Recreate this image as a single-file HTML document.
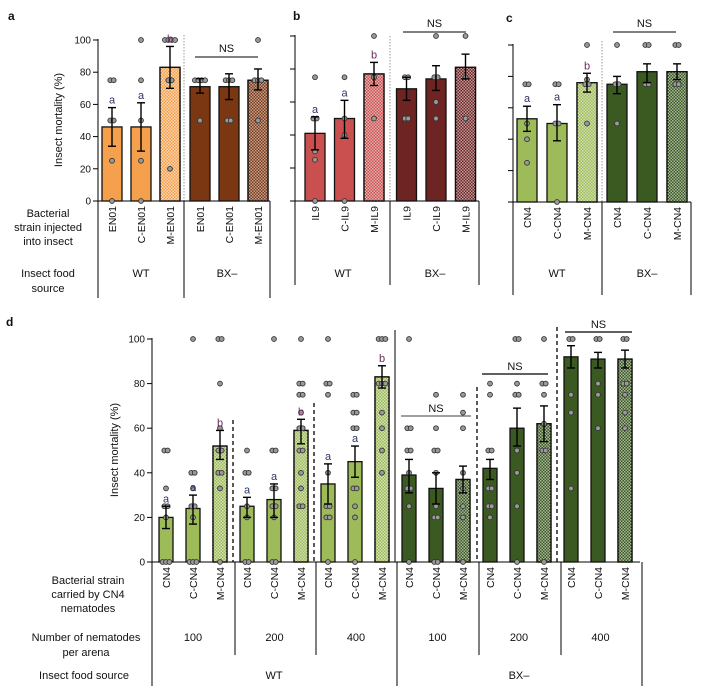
<!DOCTYPE html>
<html><head><meta charset="utf-8">
<style>
html,body{margin:0;padding:0;background:#fff;}
svg{display:block;font-family:"Liberation Sans",Arial,sans-serif;}
</style></head>
<body>
<svg id="fig" width="715" height="695" viewBox="0 0 715 695" xmlns="http://www.w3.org/2000/svg">
<defs>
<pattern id="dots" width="3" height="3" patternUnits="userSpaceOnUse"><rect x="0" y="0" width="1.5" height="1.5" fill="#fff" fill-opacity="0.55"/><rect x="1.5" y="1.5" width="1.5" height="1.5" fill="#fff" fill-opacity="0.55"/></pattern>
</defs>
<g id="static"></g>
</svg>
<script>
// ---------- DATA ----------
const catsA = ["EN01","C-EN01","M-EN01","EN01","C-EN01","M-EN01"];
const meanA = [46,46,83,71,71,75];
const loA = [34,31,70,67,63,69];
const hiA = [58,61,96,76,79,82];
const ptsA = [[75,75,50,50,25,0],[100,75,50,25,0],[100,100,100,100,75,75,20],[75,75,75,75,50],[75,75,75,50,50],[100,75,75,75,50]];
const letA = ["a","a","b","","",""];

const catsB = ["IL9","C-IL9","M-IL9","IL9","C-IL9","M-IL9"];
const meanB = [41,50,77,68,74,81];
const loB = [31,38,70,61,67,74];
const hiB = [51,61,84,75,82,89];
const ptsB = [[75,50,50,30,25,0],[75,50,40,0],[100,75,50],[75,75,50,50],[100,75,75,60,50],[100,75,50]];
const letB = ["a","a","b","","",""];

const catsC = ["CN4","C-CN4","M-CN4","CN4","C-CN4","M-CN4"];
const meanC = [53,50,76,75,83,83];
const loC = [45,39,70,69,76,78];
const hiC = [61,62,82,80,88,88];
const ptsC = [[75,75,50,40,25],[75,75,50,50,0],[100,78,75,75,50],[100,75,75,50],[100,100,75,75],[100,100,75,75]];
const letC = ["a","a","b","","",""];

const catsD = ["CN4","C-CN4","M-CN4","CN4","C-CN4","M-CN4","CN4","C-CN4","M-CN4","CN4","C-CN4","M-CN4","CN4","C-CN4","M-CN4","CN4","C-CN4","M-CN4"];
const meanD = [20,24,52,25,28,59,35,45,83,39,33,37,42,60,62,92,91,91];
const loD = [15,17,46,20,20,53,26,38,78,31,26,31,37,52,54,87,87,87];
const hiD = [25,30,59,29,35,64,44,52,88,46,40,43,46,69,70,97,94,95];
const ptsD = [
 [50,50,33,25,25,20,0,0,0],[100,40,40,33,25,25,20,0,0,0],[100,100,80,60,50,50,40,40,33,0],
 [50,40,40,25,20,0,0],[100,50,50,33,33,25,25,20,0,0],[100,80,80,75,75,67,60,60,50,50,40,33,25,25],
 [100,80,80,75,40,25,25,20,20,0],[75,75,67,67,60,60,33,33,25,20,0],[100,100,100,80,80,80,67,60,50,40],
 [100,60,60,50,50,40,33,33,25,0],[75,60,50,50,40,25,20,20,0,0],[75,67,60,40,33,25,20,0],
 [80,75,50,50,33,33,25,25,20],[100,100,80,75,75,50,40,25,0],[100,80,80,75,62,50,50,0],
 [100,100,75,67,33],[100,100,80,75,60],[100,100,80,80,75,67,60]];
const letD = ["a","a","b","a","a","b","a","a","b","","","","","","","","",""];
const ticks = [0,20,40,60,80,100];
const nemGroups = ["100","200","400","100","200","400"];

// ---------- DRAW ----------
const NS="http://www.w3.org/2000/svg";
const svg=document.getElementById('fig');
function mk(tag,attrs,parent,text){const e=document.createElementNS(NS,tag);for(const k in attrs)e.setAttribute(k,attrs[k]);if(text!==undefined)e.textContent=text;(parent||svg).appendChild(e);return e;}
function line(x1,y1,x2,y2,st,parent){return mk('line',{x1,y1,x2,y2,stroke:st&&st.c||'#000','stroke-width':st&&st.w||1,'stroke-dasharray':st&&st.d||'none'},parent);}
function txt(x,y,s,size,anchor,parent,extra){const t=mk('text',Object.assign({x,y,'font-size':size,'text-anchor':anchor||'middle',fill:'#111'},extra||{}),parent,s);return t;}

function panel(P){
  const g=mk('g',{});
  
  
  const ys=v=>P.y0-(P.y0-P.y100)*v/100;
  // axis
  line(P.ax,P.y100-1,P.ax,P.y0,null,g);
  line(P.ax,P.y0,P.xEnd,P.y0,null,g);
  ticks.forEach(t=>{line(P.ax-5,ys(t),P.ax,ys(t),null,g);
    if(P.tickLabels){const tl=txt(P.ax-7,ys(t)+3.5,String(t),10,'end',g);
      
      }});
  P.cats.forEach((c,i)=>{
    const cx=P.cx(i), w=P.bw;
    const bar=mk('rect',{x:cx-w/2,y:ys(P.mean[i]),width:w,height:ys(0)-ys(P.mean[i]),fill:P.color(i),stroke:'#111','stroke-width':1.3},g);
    
    
    if(c.startsWith('M-')){mk('rect',{x:cx-w/2,y:ys(P.mean[i]),width:w,height:ys(0)-ys(P.mean[i]),fill:'url(#dots)',stroke:'#111','stroke-width':1.3},g);}
    // points
    const counts={};
    P.pts[i].forEach(v=>{counts[v]=(counts[v]||0)+1;});
    const seen={};
    P.pts[i].forEach(v=>{const n=counts[v];const k=(seen[v]=(seen[v]||0)+1)-1;
      const off=(k-(n-1)/2)*3.4;
      const pt=mk('circle',{cx:cx+off,cy:ys(v),r:2.4,fill:'#9a9a9a',stroke:'#333','stroke-width':0.9},g);
      
      });
    // error bar
    line(cx,ys(P.lo[i]),cx,ys(P.hi[i]),{w:1.4},g);
    line(cx-4,ys(P.lo[i]),cx+4,ys(P.lo[i]),{w:1.4},g);
    line(cx-4,ys(P.hi[i]),cx+4,ys(P.hi[i]),{w:1.4},g);
    if(P.let[i]){const l=txt(cx,ys(P.hi[i])-4,P.let[i],11,'middle',g,{fill:P.let[i]==='a'?'#2c3566':'#6b2a58'});
      
      }
    // x label rotated
    const xl=txt(cx+4,P.y0+5,c,10.5,'end',g,{transform:`rotate(-90 ${cx+4} ${P.y0+5})`});
    
    
  });
  return g;
}

// Panel a
panel({name:'panel-a',ax:98,y0:201,y100:40,xEnd:270,bw:20,cats:catsA,mean:meanA,lo:loA,hi:hiA,pts:ptsA,let:letA,tickLabels:true,
  cx:i=>112+i*29+(i>=3?1:0),color:i=>i<3?'#f5a04c':'#7b3612'});
// Panel b
panel({name:'panel-b',ax:295,y0:201,y100:36,xEnd:479,bw:20,cats:catsB,mean:meanB,lo:loB,hi:hiB,pts:ptsB,let:letB,tickLabels:false,
  cx:i=>315+i*29.5+(i>=3?3:0),color:i=>i<3?'#c9504f':'#6f2424'});
// Panel c
panel({name:'panel-c',ax:513,y0:202,y100:45,xEnd:691,bw:20,cats:catsC,mean:meanC,lo:loC,hi:hiC,pts:ptsC,let:letC,tickLabels:false,
  cx:i=>527+i*30,color:i=>i<3?'#9dbb58':'#3b5a22'});
// Panel d
panel({name:'panel-d',ax:152,y0:562,y100:339,xEnd:640,bw:14,cats:catsD,mean:meanD,lo:loD,hi:hiD,pts:ptsD,let:letD,tickLabels:true,
  cx:i=>166+Math.floor(i/3)*81+(i%3)*27,color:i=>i<9?'#9dbb58':'#3b5a22'});

// static annotations
const S=document.getElementById('static');
function L(x1,y1,x2,y2,o){return line(x1,y1,x2,y2,o,S);}
// panel letters
[['a',8,20],['b',293,20],['c',506,22],['d',6,326]].forEach(p=>{const t=txt(p[1],p[2],p[0],12,'start',S,{'font-weight':'bold'});
  
  });
// y-axis titles
let yt=txt(62,120,'Insect mortality (%)',11,'middle',S,{transform:'rotate(-90 62 120)'});


yt=txt(118,450,'Insect mortality (%)',11,'middle',S,{transform:'rotate(-90 118 450)'});


// dotted dividers
L(184,35,184,201,{c:'#999',d:'1.5 1.5'});
L(390,36,390,201,{c:'#999',d:'1.5 1.5'});
L(602,41,602,202,{c:'#999',d:'1.5 1.5'});
// NS lines top
[[195,258,57],[403,466,32],[613,676,32]].forEach(n=>{L(n[0],n[2],n[1],n[2]);const t=txt((n[0]+n[1])/2,n[2]-5,'NS',11,'middle',S);
  
  });
// table lines panels a,b,c
L(98,201,98,298);L(184,201,184,298);L(270,201,270,298);
L(295,201,295,285);L(390,201,390,285);L(479,201,479,285);
L(513,202,513,295);L(602,202,602,295);L(691,202,691,295);
// row labels a
[['Bacterial',48,217],['strain injected',48,231],['into insect',48,245],['Insect food',48,277],['source',48,292]].forEach(r=>{const t=txt(r[1],r[2],r[0],11,'middle',S);
  
  });
[['WT',141,277],['BX\u2013',227,277],['WT',343,277],['BX\u2013',435,277],['WT',557,277],['BX\u2013',647,277]].forEach(r=>{const t=txt(r[1],r[2],r[0],11,'middle',S);
  
  });
// panel d dividers
L(233,420,233,562,{d:'4 3',w:1.3});L(314,403,314,562,{d:'4 3',w:1.3});
L(477,387,477,562,{d:'4 3',w:1.3});L(557,327,557,562,{d:'4 3',w:1.3});
L(395,330,395,562);
// NS d
[[401,471,416],[482,548,374],[565,632,332]].forEach(n=>{L(n[0],n[2],n[1],n[2],{c:n[2]==416?'#666':'#000',w:1.2});const t=txt((n[0]+n[1])/2,n[2]-4,'NS',11,'middle',S);
  
  });
// table d
L(152,562,152,686);L(235,562,235,655);L(316,562,316,655);L(397,562,397,686);L(479,562,479,655);L(561,562,561,655);L(642,562,642,686);
[['Bacterial strain',88,584],['carried by CN4',88,598],['nematodes',88,612],['Number of nematodes',86,641],['per arena',86,656],['Insect food source',84,679]].forEach(r=>{const t=txt(r[1],r[2],r[0],11,'middle',S);
  
  });
nemGroups.forEach((n,i)=>{const t=txt(193+i*81.5,641,n,11,'middle',S);
  
  });
[['WT',274],['BX\u2013',519]].forEach(r=>{const t=txt(r[1],679,r[0],11,'middle',S);
  
  });
</script>
</body></html>
